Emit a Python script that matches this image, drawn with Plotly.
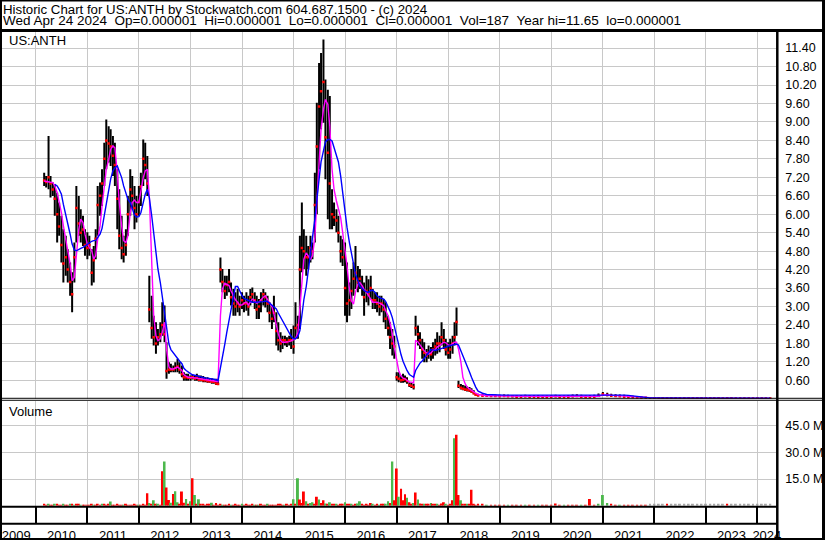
import pandas as pd
import plotly.graph_objects as go

W, H = 830, 543
FONT = "Liberation Sans, Arial, sans-serif"
GRID = "#C8C8C8"
UP = "#4CB84C"
DOWN = "#FF0000"
FLAT = "#A8A8A8"
MA_FAST = "#FF00FF"
MA_SLOW = "#0000FF"

HEADER1 = "Historic Chart for US:ANTH by Stockwatch.com 604.687.1500 - (c) 2024"
HEADER2 = ["Wed Apr 24 2024", "Op=0.000001", "Hi=0.000001", "Lo=0.000001",
           "Cl=0.000001", "Vol=187", "Year hi=11.65", "lo=0.000001"]

# semi-monthly bars, 2010-03-01 .. 2018-07-15 (price in $)
bar_hi = [
    7.35, 7.24, 8.54, 7.24, 7.03, 6.97, 6.70, 6.38, 5.95, 5.51,
    5.30, 4.86, 4.43, 4.11, 5.08, 6.92, 6.59, 6.16, 5.95, 5.51,
    5.41, 5.30, 4.86, 4.97, 5.51, 6.92, 7.03, 7.46, 8.32, 9.08,
    8.86, 8.76, 8.54, 8.32, 7.46, 6.81, 5.95, 5.30, 5.51, 6.59,
    7.46, 7.24, 6.92, 6.59, 6.92, 7.35, 8.43, 8.32, 7.89, 4.00,
    3.35, 2.70, 2.49, 2.27, 2.49, 3.14, 3.03, 1.84, 1.19, 1.14,
    1.08, 1.19, 1.30, 1.19, 1.08, 0.86, 0.81, 0.81, 0.76, 0.78,
    0.76, 0.81, 0.76, 0.76, 0.74, 0.70, 0.70, 0.67, 0.67, 0.65,
    0.65, 0.65, 4.59, 4.22, 4.00, 4.00, 4.22, 3.78, 3.57, 3.46,
    3.57, 3.35, 3.46, 3.35, 3.46, 3.35, 3.57, 3.62, 3.46, 3.35,
    3.24, 3.46, 3.57, 3.46, 3.35, 3.14, 3.03, 3.35, 2.81, 2.49,
    2.16, 2.05, 2.05, 2.00, 2.05, 2.27, 2.38, 3.14, 2.70, 5.30,
    6.38, 5.51, 5.30, 4.97, 5.30, 5.08, 7.35, 9.62, 10.92, 11.24,
    11.68, 10.38, 10.05, 9.84, 6.81, 6.38, 6.16, 5.95, 5.30, 5.19,
    5.08, 4.43, 3.78, 4.22, 4.43, 4.97, 4.32, 4.22, 4.00, 3.78,
    4.00, 3.89, 4.00, 3.57, 3.46, 3.46, 3.35, 3.35, 3.24, 3.14,
    2.70, 2.49, 2.27, 2.05, 0.86, 0.86, 0.76, 0.81, 0.76, 0.70,
    0.54, 0.52, 0.49, 2.70, 2.38, 2.16, 1.95, 1.84, 1.62, 1.73,
    1.68, 1.84, 1.95, 2.16, 2.05, 2.49, 2.27, 1.95, 1.84, 1.95,
    2.05, 2.49, 2.97, 0.59, 0.48, 0.45, 0.43, 0.40, 0.38, 0.34,
    0.28, 0.18,
]
bar_lo = [
    6.92, 6.87, 6.81, 6.54, 6.59, 5.95, 5.08, 5.30, 4.43, 3.78,
    4.00, 3.78, 3.35, 2.81, 3.78, 5.08, 5.30, 5.08, 4.97, 4.65,
    4.54, 4.65, 3.68, 3.78, 4.54, 5.30, 5.95, 6.27, 6.92, 7.46,
    7.68, 7.57, 7.24, 6.92, 5.51, 4.86, 4.54, 4.43, 4.65, 5.30,
    5.95, 6.16, 5.51, 5.73, 5.95, 6.27, 6.92, 7.14, 6.59, 2.49,
    1.95, 1.73, 1.46, 1.73, 1.84, 2.05, 1.84, 0.65, 0.81, 0.86,
    0.86, 0.86, 0.86, 0.81, 0.70, 0.59, 0.59, 0.59, 0.59, 0.63,
    0.59, 0.59, 0.56, 0.56, 0.54, 0.54, 0.52, 0.52, 0.49, 0.49,
    0.45, 0.45, 3.78, 3.46, 3.24, 3.35, 3.46, 3.03, 2.70, 2.70,
    2.81, 2.70, 2.92, 2.81, 2.86, 2.70, 3.03, 3.14, 2.92, 2.59,
    2.59, 2.81, 3.03, 2.97, 2.81, 2.49, 2.27, 2.49, 1.73, 1.57,
    1.51, 1.62, 1.73, 1.68, 1.73, 1.62, 1.46, 1.95, 1.95, 2.27,
    4.11, 4.22, 4.00, 4.22, 4.43, 4.54, 5.08, 6.00, 7.46, 8.76,
    8.97, 7.14, 5.84, 5.51, 5.51, 5.62, 5.41, 5.08, 4.43, 4.32,
    2.70, 2.49, 2.70, 2.92, 3.35, 3.57, 3.46, 3.57, 3.35, 2.70,
    3.14, 3.03, 3.24, 2.92, 2.92, 2.81, 2.70, 2.81, 2.49, 2.27,
    2.05, 1.62, 1.41, 1.30, 0.59, 0.54, 0.52, 0.52, 0.54, 0.49,
    0.38, 0.35, 0.30, 2.05, 1.73, 1.62, 1.30, 1.19, 1.19, 1.30,
    1.24, 1.30, 1.41, 1.46, 1.51, 1.73, 1.62, 1.41, 1.30, 1.30,
    1.46, 1.73, 2.05, 0.35, 0.30, 0.28, 0.25, 0.24, 0.22, 0.20,
    0.15, 0.10,
]
bar_cl = [
    7.10, 7.05, 7.20, 7.00, 6.80, 6.50, 6.00, 5.60, 5.00, 4.40,
    4.60, 4.20, 3.80, 3.40, 4.60, 6.20, 5.70, 5.40, 5.50, 5.00,
    4.90, 5.00, 4.10, 4.50, 5.20, 6.30, 6.60, 7.00, 7.80, 8.40,
    8.30, 8.20, 7.90, 7.60, 6.50, 5.30, 4.90, 4.70, 5.00, 6.00,
    6.80, 6.60, 6.20, 6.00, 6.40, 6.90, 7.80, 7.60, 7.00, 2.90,
    2.30, 2.00, 1.80, 2.00, 2.10, 2.40, 2.10, 0.90, 0.95, 0.95,
    0.95, 1.00, 1.05, 0.95, 0.80, 0.70, 0.70, 0.68, 0.68, 0.70,
    0.66, 0.68, 0.62, 0.62, 0.60, 0.60, 0.58, 0.57, 0.55, 0.55,
    0.50, 0.48, 4.20, 3.80, 3.50, 3.70, 3.80, 3.30, 3.10, 3.00,
    3.10, 3.00, 3.20, 3.10, 3.10, 3.00, 3.30, 3.40, 3.20, 2.90,
    3.00, 3.20, 3.40, 3.30, 3.10, 2.80, 2.60, 2.80, 2.20, 1.90,
    1.80, 1.90, 1.90, 1.85, 1.90, 1.90, 1.70, 2.30, 2.40, 4.20,
    4.90, 4.80, 4.60, 4.60, 4.90, 4.80, 6.30, 8.20, 9.50, 10.00,
    10.30, 8.50, 8.00, 7.00, 6.00, 5.90, 5.80, 5.40, 4.80, 4.60,
    3.60, 3.10, 3.20, 3.50, 3.90, 4.10, 3.80, 3.90, 3.60, 3.30,
    3.50, 3.40, 3.60, 3.20, 3.20, 3.10, 3.00, 3.10, 2.90, 2.60,
    2.30, 2.00, 1.80, 1.70, 0.70, 0.65, 0.60, 0.62, 0.64, 0.58,
    0.45, 0.42, 0.38, 2.30, 2.10, 1.90, 1.60, 1.50, 1.40, 1.50,
    1.45, 1.60, 1.70, 1.80, 1.80, 2.00, 1.90, 1.60, 1.50, 1.60,
    1.80, 2.00, 2.50, 0.42, 0.36, 0.33, 0.30, 0.29, 0.27, 0.24,
    0.18, 0.13,
]
ma_fast = [
    7.08, 7.06, 7.05, 7.04, 7.03, 6.92, 6.70, 6.43, 6.05, 5.62,
    5.19, 4.86, 4.38, 3.84, 3.95, 4.65, 5.51, 5.84, 5.73, 5.35,
    5.03, 4.92, 4.81, 4.54, 4.65, 5.19, 5.62, 6.27, 6.92, 7.46,
    7.78, 8.11, 8.22, 8.16, 7.35, 6.38, 5.62, 5.14, 5.08, 5.30,
    6.05, 6.38, 6.46, 6.38, 6.38, 6.76, 7.19, 7.41, 7.46, 6.59,
    4.43, 2.70, 2.05, 1.89, 1.95, 2.16, 2.49, 1.62, 1.03, 0.97,
    0.97, 0.99, 1.03, 0.99, 0.92, 0.78, 0.74, 0.70, 0.69, 0.69,
    0.68, 0.67, 0.66, 0.65, 0.64, 0.63, 0.62, 0.61, 0.59, 0.58,
    0.57, 0.56, 2.70, 3.57, 3.76, 3.73, 3.68, 3.51, 3.35, 3.22,
    3.14, 3.05, 3.05, 3.11, 3.14, 3.05, 3.14, 3.24, 3.19, 3.11,
    3.14, 3.22, 3.30, 3.35, 3.22, 3.11, 2.99, 2.76, 2.38, 2.11,
    1.89, 1.84, 1.84, 1.84, 1.86, 1.88, 1.92, 1.95, 2.16, 2.92,
    3.89, 4.54, 4.74, 4.65, 4.54, 4.65, 5.24, 6.38, 7.68, 8.76,
    9.41, 9.73, 9.57, 8.86, 7.46, 6.81, 6.43, 6.16, 5.89, 5.41,
    4.86, 4.32, 3.57, 3.19, 3.08, 3.46, 3.73, 3.78, 3.68, 3.55,
    3.46, 3.35, 3.22, 3.14, 3.14, 3.14, 3.11, 3.07, 3.03, 2.86,
    2.70, 2.46, 2.11, 1.68, 1.30, 0.92, 0.74, 0.67, 0.65, 0.59,
    0.54, 0.54, 0.52, 1.90, 1.85, 1.75, 1.64, 1.56, 1.49, 1.46,
    1.49, 1.57, 1.60, 1.68, 1.73, 1.78, 1.84, 1.82, 1.75, 1.73,
    1.78, 1.84, 1.84, 1.62, 1.19, 0.70, 0.49, 0.38, 0.32, 0.27,
    0.22, 0.18,
]
ma_slow = [
    None, None, None, None, None, 6.97, 6.92, 6.81, 6.65, 6.32,
    6.00, 5.68, 5.35, 5.03, 4.84, 4.81, 4.84, 4.89, 4.92, 4.97,
    5.03, 5.08, 5.12, 5.14, 5.15, 5.24, 5.35, 5.54, 5.95, 6.32,
    6.81, 7.14, 7.41, 7.51, 7.57, 7.41, 7.19, 6.92, 6.70, 6.49,
    6.38, 6.16, 5.97, 5.91, 5.92, 6.05, 6.38, 6.65, 6.81, 6.54,
    5.95, 5.35, 4.65, 4.22, 3.78, 3.30, 2.70, 2.22, 1.78, 1.60,
    1.49, 1.41, 1.32, 1.23, 1.14, 0.99, 0.92, 0.86, 0.82, 0.78,
    0.76, 0.74, 0.71, 0.70, 0.69, 0.68, 0.67, 0.66, 0.65, 0.64,
    0.62, 0.59, 0.97, 1.38, 1.78, 2.16, 2.54, 2.92, 3.30, 3.65,
    3.65, 3.51, 3.35, 3.26, 3.22, 3.19, 3.16, 3.14, 3.14, 3.14,
    3.14, 3.14, 3.16, 3.18, 3.16, 3.11, 3.05, 3.01, 2.92, 2.79,
    2.66, 2.54, 2.40, 2.27, 2.14, 2.03, 1.95, 1.95, 2.03, 2.22,
    2.70, 3.22, 3.65, 4.11, 4.63, 5.24, 5.84, 6.54, 7.14, 7.70,
    8.11, 8.35, 8.43, 8.43, 8.38, 8.19, 7.95, 7.70, 7.24, 6.70,
    6.05, 5.57, 5.08, 4.70, 4.38, 4.05, 3.84, 3.65, 3.59, 3.52,
    3.48, 3.46, 3.52, 3.53, 3.46, 3.35, 3.29, 3.26, 3.24, 3.16,
    3.01, 2.85, 2.64, 2.36, 2.05, 1.73, 1.43, 1.22, 1.06, 0.92,
    0.79, 0.74, 0.70, 0.92, 1.06, 1.16, 1.23, 1.32, 1.41, 1.51,
    1.60, 1.59, 1.57, 1.59, 1.61, 1.62, 1.64, 1.68, 1.71, 1.73,
    1.75, 1.77, 1.78, 1.75, 1.57, 1.40, 1.22, 1.05, 0.87, 0.70,
    0.52, 0.38,
]
# volume in millions of shares, u = up day (green), d = down day (red)
vol = [
    0.6, 0.4, 0.8, 0.5, 0.3, 0.6, 0.9, 0.5, 0.4, 0.7,
    0.5, 0.3, 0.6, 0.8, 0.5, 1.0, 0.6, 0.4, 0.5, 0.3,
    0.5, 0.4, 0.6, 0.3, 0.5, 0.7, 0.4, 0.6, 0.8, 0.5,
    0.6, 2.3, 0.5, 0.4, 0.6, 0.5, 0.3, 0.4, 0.6, 0.5,
    0.4, 0.5, 0.7, 0.4, 0.3, 0.5, 0.6, 0.5, 7.0, 1.5,
    0.8, 3.0, 0.6, 0.9, 0.5, 19.5, 25.0, 10.3, 3.2, 1.7,
    6.6, 8.1, 2.0, 0.9, 8.0, 1.7, 3.8, 0.7, 2.5, 15.5,
    6.0, 0.8, 3.6, 0.6, 1.0, 0.5, 0.8, 0.6, 1.7, 0.5,
    1.5, 0.5, 0.6, 0.4, 0.5, 0.3, 0.6, 0.5, 0.4, 0.8,
    0.5, 0.4, 0.6, 0.3, 0.8, 0.5, 0.4, 0.6, 0.3, 0.5,
    0.4, 0.8, 0.5, 0.3, 0.6, 0.4, 0.5, 0.3, 0.5, 1.1,
    0.6, 0.4, 0.5, 0.7, 0.4, 0.6, 3.6, 0.8, 15.5, 3.5,
    1.5, 8.0, 2.5, 1.0, 1.5, 2.0, 1.0, 5.0, 3.5, 1.5,
    3.0, 1.2, 1.0, 2.0, 0.8, 0.6, 0.9, 0.5, 0.7, 0.6,
    2.0, 0.8, 0.6, 1.0, 0.5, 0.7, 1.2, 2.5, 0.6, 0.5,
    0.8, 0.5, 1.5, 0.6, 0.4, 0.7, 0.5, 0.8, 0.6, 1.0,
    2.5, 1.5, 25.0, 3.0, 21.0, 5.0, 9.5, 3.0, 6.5, 4.5,
    2.0, 1.0, 1.5, 7.5, 3.5, 1.2, 0.8, 1.0, 0.6, 0.8,
    1.5, 0.6, 0.8, 1.0, 0.5, 1.2, 2.0, 0.7, 0.5, 1.0,
    3.0, 38.0, 40.0, 6.0, 3.0, 1.0, 0.8, 0.6, 1.0, 9.0,
    0.8, 0.5,
]
vol_dir = (
    "dduddudddu" "ddududdudd" "dddudddudd" "dudddddudd" "dddduddddu"
    "dududduddu" "duudddudud" "ududddddud" "dddudddudd" "ddudddddud"
    "uddduddddd" "ddudddudud" "dduduuddud" "dududduddd" "uddudduudd"
    "dddudduddu" "ududdudddu" "ddududdudd" "uddudddudd" "dudduddudd"
    "dd"
)

# monthly bars, 2018-08 .. 2024-04 (quiet period)
q_hi = [
    0.16, 0.15, 0.14, 0.14, 0.13,
    0.13, 0.14, 0.13, 0.12, 0.12, 0.12, 0.13, 0.12, 0.12, 0.12, 0.11, 0.11,
    0.12, 0.13, 0.12, 0.11, 0.12, 0.14, 0.15, 0.13, 0.11, 0.12, 0.13, 0.17,
    0.22, 0.20, 0.16, 0.15, 0.14, 0.13, 0.12, 0.10, 0.08, 0.07, 0.06, 0.05,
    0.05, 0.05, 0.04, 0.05, 0.04, 0.04, 0.05, 0.04, 0.04, 0.04, 0.04, 0.04,
    0.04, 0.04, 0.04, 0.04, 0.03, 0.04, 0.04, 0.03, 0.03, 0.03, 0.03, 0.03,
    0.03, 0.03, 0.03, 0.03,
]
q_lo = [
    0.08, 0.08, 0.07, 0.07, 0.06,
    0.06, 0.06, 0.06, 0.05, 0.05, 0.05, 0.05, 0.05, 0.05, 0.05, 0.04, 0.04,
    0.05, 0.05, 0.04, 0.04, 0.04, 0.05, 0.06, 0.05, 0.04, 0.04, 0.05, 0.06,
    0.09, 0.08, 0.07, 0.06, 0.06, 0.05, 0.05, 0.04, 0.03, 0.02, 0.02, 0.01,
    0.01, 0.01, 0.01, 0.01, 0.01, 0.01, 0.01, 0.01, 0.01, 0.01, 0.01, 0.01,
    0.01, 0.01, 0.01, 0.01, 0.01, 0.01, 0.01, 0.01, 0.01, 0.01, 0.01, 0.01,
    0.01, 0.01, 0.01, 0.01,
]
q_cl = [
    0.11, 0.10, 0.10, 0.09, 0.09,
    0.08, 0.09, 0.08, 0.08, 0.07, 0.07, 0.08, 0.07, 0.07, 0.06, 0.06, 0.06,
    0.07, 0.08, 0.06, 0.06, 0.06, 0.08, 0.09, 0.07, 0.06, 0.06, 0.07, 0.10,
    0.15, 0.12, 0.10, 0.09, 0.08, 0.07, 0.06, 0.05, 0.04, 0.03, 0.03, 0.02,
    0.02, 0.02, 0.02, 0.02, 0.02, 0.02, 0.02, 0.02, 0.02, 0.02, 0.02, 0.02,
    0.02, 0.02, 0.02, 0.02, 0.01, 0.02, 0.02, 0.01, 0.01, 0.01, 0.01, 0.01,
    0.01, 0.01, 0.01, 0.01,
]
q_fast = [
    0.14, 0.11, 0.10, 0.10, 0.09,
    0.09, 0.09, 0.09, 0.08, 0.08, 0.08, 0.08, 0.08, 0.07, 0.07, 0.07, 0.06,
    0.07, 0.08, 0.07, 0.06, 0.06, 0.07, 0.08, 0.08, 0.07, 0.06, 0.07, 0.08,
    0.12, 0.13, 0.11, 0.10, 0.09, 0.08, 0.07, 0.06, 0.05, 0.04, 0.03, 0.03,
    0.02, 0.02, 0.02, 0.02, 0.02, 0.02, 0.02, 0.02, 0.02, 0.02, 0.02, 0.02,
    0.02, 0.02, 0.02, 0.02, 0.01, 0.01, 0.01, 0.01, 0.01, 0.01, 0.01, 0.01,
    0.01, 0.01, 0.01, 0.01,
]
q_slow = [
    0.25, 0.18, 0.14, 0.13, 0.12,
    0.12, 0.12, 0.12, 0.12, 0.12, 0.12, 0.12, 0.12, 0.12, 0.12, 0.12, 0.12,
    0.12, 0.12, 0.12, 0.12, 0.12, 0.12, 0.12, 0.12, 0.12, 0.12, 0.12, 0.12,
    0.13, 0.14, 0.14, 0.14, 0.13, 0.12, 0.11, 0.09, 0.07, 0.05, 0.04, 0.03,
    0.03, 0.03, 0.03, 0.03, 0.03, 0.03, 0.03, 0.03, 0.03, 0.03, 0.03, 0.03,
    0.02, 0.02, 0.02, 0.02, 0.02, 0.02, 0.02, 0.02, 0.02, 0.02, 0.02, 0.02,
    0.02, 0.02, 0.02, 0.02,
]
q_vol = [
    0.8, 0.6, 0.5, 0.4, 0.5,
    0.4, 0.5, 0.3, 0.4, 0.3, 0.4, 0.3, 0.5, 0.3, 0.4, 0.3, 0.3,
    0.4, 1.3, 0.5, 0.4, 0.3, 0.5, 0.4, 0.3, 0.4, 3.8, 0.5, 0.6,
    6.0, 1.5, 0.6, 0.5, 0.4, 0.3, 0.5, 0.4, 0.3, 0.3, 0.3, 0.6,
    0.6, 0.6, 0.6, 0.6, 0.6, 0.6, 0.6, 0.6, 0.6, 0.6, 0.6, 0.6,
    0.6, 0.6, 0.6, 0.6, 0.6, 0.6, 0.6, 0.6, 0.6, 0.6, 0.6, 0.6,
    0.6, 0.6, 0.6, 0.6,
]
q_dir = "ddudd" "dduddduddudd" "dddudddudddu" "uudduddddddn" "nnndnnnnnnnn" "nnnnndnnnnnn" "nnnn"

PRICE_TICKS = [0.6, 1.2, 1.8, 2.4, 3.0, 3.6, 4.2, 4.8, 5.4, 6.0,
               6.6, 7.2, 7.8, 8.4, 9.0, 9.6, 10.2, 10.8, 11.4]
VOL_TICKS = [15, 30, 45]
VOL_TICK_TEXT = ["15.0 M", "30.0 M", "45.0 M"]
YEAR_LABELS = ["2009", "2010", "2011", "2012", "2013", "2014", "2015", "2016",
               "2017", "2018", "2019", "2020", "2021", "2022", "2023", "2024"]
YEAR_LABEL_POS = ["2009-08-15", "2010-07-02", "2011-07-02", "2012-07-02",
                  "2013-07-02", "2014-07-02", "2015-07-02", "2016-07-02",
                  "2017-07-02", "2018-07-02", "2019-07-02", "2020-07-02",
                  "2021-07-02", "2022-07-02", "2023-07-02", "2024-03-08"]
YEAR_STARTS = [f"{y}-01-01" for y in range(2010, 2025)]
X_RANGE = ["2009-05-06", "2024-05-14"]

for name, arr in [("bar_lo", bar_lo), ("bar_cl", bar_cl), ("ma_fast", ma_fast),
                  ("ma_slow", ma_slow), ("vol", vol), ("vol_dir", vol_dir)]:
    assert len(arr) == len(bar_hi), (name, len(arr), len(bar_hi))
for name, arr in [("q_lo", q_lo), ("q_cl", q_cl), ("q_fast", q_fast),
                  ("q_slow", q_slow), ("q_vol", q_vol), ("q_dir", q_dir)]:
    assert len(arr) == len(q_hi), (name, len(arr), len(q_hi))

dates = list(pd.date_range("2010-03-01", periods=len(bar_hi), freq="SMS")) + \
    list(pd.date_range("2018-08-01", periods=len(q_hi), freq="MS"))
hi = bar_hi + q_hi
lo = bar_lo + q_lo
cl = bar_cl + q_cl
fast = ma_fast + q_fast
slow = ma_slow + q_slow
volume = vol + q_vol
direction = vol_dir + q_dir

# high-low bars as one broken line
bx, by = [], []
for d, l, h in zip(dates, lo, hi):
    bx += [d, d, None]
    by += [l, h, None]

fig = go.Figure()
fig.add_trace(go.Scatter(x=bx, y=by, mode="lines", line=dict(color="black", width=2),
                         hoverinfo="skip", xaxis="x", yaxis="y"))
fig.add_trace(go.Scatter(x=dates, y=cl, mode="markers",
                         marker=dict(symbol="square", size=2.5, color="red", line=dict(width=0)),
                         xaxis="x", yaxis="y"))
fig.add_trace(go.Scatter(x=dates, y=fast, mode="lines", line=dict(color=MA_FAST, width=1.4),
                         xaxis="x", yaxis="y"))
fig.add_trace(go.Scatter(x=dates, y=slow, mode="lines", line=dict(color=MA_SLOW, width=1.4),
                         xaxis="x", yaxis="y"))
colors = {"u": UP, "d": DOWN, "n": FLAT}
fig.add_trace(go.Bar(x=dates, y=volume, marker=dict(color=[colors[c] for c in direction], line=dict(width=0)),
                     width=14 * 24 * 3600 * 1000, xaxis="x2", yaxis="y2"))


def px(x):
    return x / W


def py(y):
    return 1 - y / H


def hline(y, x0, x1, w):
    return dict(type="line", xref="paper", yref="paper", x0=px(x0), x1=px(x1),
                y0=py(y), y1=py(y), line=dict(color="black", width=w))


def vline(x, y0, y1, w):
    return dict(type="line", xref="paper", yref="paper", x0=px(x), x1=px(x),
                y0=py(y0), y1=py(y1), line=dict(color="black", width=w))


shapes = [
    hline(0.8, 0, W, 1.6),
    hline(30.7, 0, W, 3),
    vline(1, 0, H, 2),
    vline(828.5, 0, H, 3),
    vline(782, 30, H, 2.5),
    hline(400.5, 0, W, 1),
    hline(402.5, 0, W, 1),
    hline(509.6, 0, 782, 2),
    hline(526.7, 0, 782, 2),
    hline(542, 0, W, 2),
]

sp = "\u00a0" * 2
annotations = [
    dict(text=HEADER1, x=px(2), y=py(1), xanchor="left", yanchor="top", font=dict(size=13.25)),
    dict(text=sp.join(HEADER2), x=px(2), y=py(29.5), xanchor="left", yanchor="bottom", font=dict(size=13.5)),
    dict(text="US:ANTH", x=px(8), y=py(41), xanchor="left", yanchor="middle", font=dict(size=13)),
    dict(text="Volume", x=px(8.5), y=py(414), xanchor="left", yanchor="middle", font=dict(size=13)),
]
for a in annotations:
    a.update(xref="paper", yref="paper", showarrow=False, borderpad=0)

XDOM = [px(2), px(781)]
axis_common = dict(showline=False, zeroline=False, gridcolor=GRID, gridwidth=1)

fig.update_layout(
    width=W, height=H, margin=dict(l=0, r=0, t=0, b=0),
    paper_bgcolor="white", plot_bgcolor="white", showlegend=False,
    font=dict(family=FONT, size=12.5, color="black"),
    shapes=shapes, annotations=annotations,
    xaxis=dict(domain=XDOM, range=X_RANGE, type="date", anchor="y",
               tickvals=YEAR_STARTS, showticklabels=False, ticks="", showgrid=True,
               **axis_common),
    yaxis=dict(domain=[py(401), py(32)], range=[0, 11.93], side="right", anchor="x",
               tickvals=PRICE_TICKS, ticktext=[f"{v:.2f}" for v in PRICE_TICKS],
               ticks="", showgrid=True, ticklabelstandoff=8, **axis_common),
    xaxis2=dict(domain=XDOM, range=X_RANGE, type="date", anchor="y2", matches="x",
                tickvals=YEAR_LABEL_POS, ticktext=YEAR_LABELS, ticks="", showgrid=False,
                ticklabelstandoff=20, tickfont=dict(size=13),
                minor=dict(tickvals=YEAR_STARTS, ticks="outside", ticklen=17, tickwidth=2,
                           tickcolor="black", showgrid=True, gridcolor=GRID, gridwidth=1),
                showline=False, zeroline=False),
    yaxis2=dict(domain=[py(508.5), py(403)], range=[0, 59.2], side="right", anchor="x2",
                tickvals=VOL_TICKS, ticktext=VOL_TICK_TEXT, ticks="", showgrid=True,
                ticklabelstandoff=8, **axis_common),
)

fig.write_html("out.html", config={"displayModeBar": False},
               post_script="document.body.style.margin = '0';")
